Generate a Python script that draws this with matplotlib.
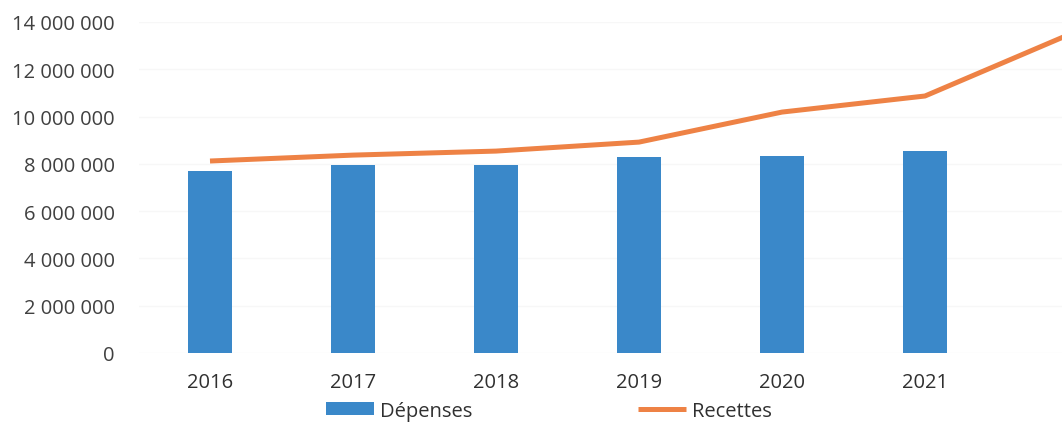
import matplotlib
matplotlib.use("Agg")
import matplotlib.pyplot as plt
from matplotlib.ticker import FuncFormatter

years = ["2016", "2017", "2018", "2019", "2020", "2021", "2022"]
depenses = [7700000, 7950000, 7950000, 8290000, 8330000, 8540000, None]
recettes = [8120000, 8370000, 8540000, 8920000, 10190000, 10870000, 13450000]
yticks = [0, 2000000, 4000000, 6000000, 8000000, 10000000, 12000000, 14000000]

plt.rcParams['font.family'] = ['Open Sans', 'DejaVu Sans']

W, H = 1062, 427
fig = plt.figure(figsize=(W / 100, H / 100), dpi=100)
left = 138.5 / W
bottom = (H - 354) / H
top = (H - 23) / H
ax = fig.add_axes([left, bottom, 1 - left, top - bottom])

bar_x = [i for i, v in enumerate(depenses) if v is not None]
bar_v = [v for v in depenses if v is not None]
hb = ax.bar(bar_x, bar_v, width=0.31, color="#3A88C9", label="Dépenses", zorder=2)
hl, = ax.plot(range(len(recettes)), recettes, color="#EE8245", lw=3.6,
              label="Recettes", zorder=3, solid_capstyle="butt")

ax.set_ylim(0, 14000000)
ax.set_xlim(-0.5, (W - 138.5) / 143 - 0.5)
ax.set_yticks(yticks)
ax.yaxis.set_major_formatter(FuncFormatter(lambda v, p: f"{int(v):,}".replace(",", " ")))
ax.set_xticks(range(6))
ax.set_xticklabels(years[:6])
ax.tick_params(axis="both", length=0, labelsize=14.5, colors="#404040")
ax.tick_params(axis="y", pad=17)
ax.tick_params(axis="x", pad=14)
for lab in ax.get_xticklabels():
    lab.set_color("#303030")
for s in ax.spines.values():
    s.set_visible(False)
ax.grid(axis="y", color="#f7f7f7", lw=1, zorder=0)
ax.set_axisbelow(True)

fig.legend(handles=[hb, hl], labels=["Dépenses", "Recettes"], loc="center",
           bbox_to_anchor=(0.517, 0.036), ncol=2, frameon=False,
           fontsize=14.5, handlelength=2.4, handleheight=0.55, columnspacing=8.2,
           handletextpad=0.3, labelcolor="#303030")

fig.savefig("out.png", dpi=100)
